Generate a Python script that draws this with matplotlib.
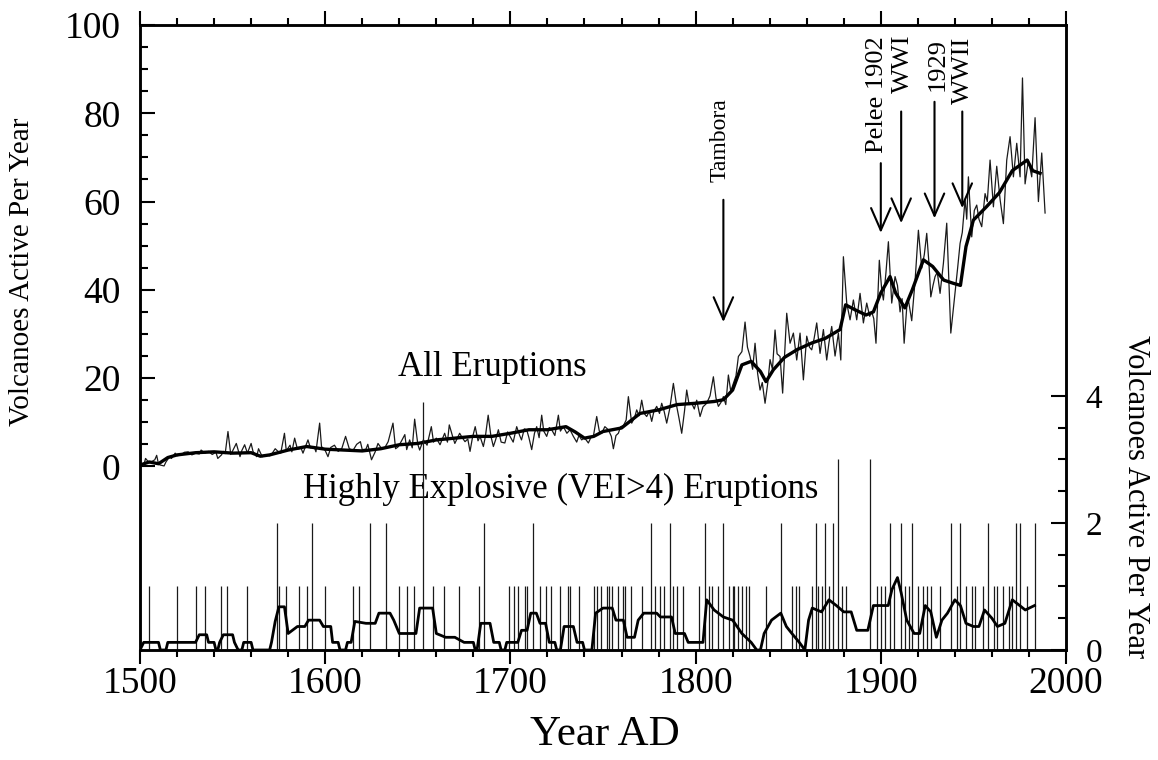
import numpy as np
import matplotlib
matplotlib.use("Agg")
import matplotlib.pyplot as plt
from matplotlib.ticker import MultipleLocator, FixedLocator

plt.rcParams['font.family'] = ['Liberation Serif', 'DejaVu Serif']

# all eruptions, volcanoes active per year (thin line)
all_years = [1500, 1502, 1503, 1505, 1506, 1508, 1509, 1510, 1511, 1513, 1514, 1516, 1517, 1519, 1520,
             1522, 1524, 1526, 1528, 1530, 1532, 1533, 1535, 1537, 1539, 1541, 1542, 1544, 1545, 1546,
             1547.5, 1549, 1550, 1552, 1554, 1555, 1556.5, 1558, 1560, 1561, 1563, 1564, 1566, 1568, 1570,
             1571, 1573, 1574.5, 1576, 1578, 1579, 1581, 1582, 1583.5, 1585, 1587, 1588, 1590.7, 1592, 1594,
             1595, 1597, 1598, 1600, 1601.5, 1603, 1605, 1607, 1609, 1611, 1613, 1615, 1617, 1619, 1620,
             1622, 1623, 1625, 1627, 1628.5, 1630, 1632, 1634, 1636.6, 1638, 1639.3, 1641, 1643, 1644, 1645.6,
             1647, 1648.3, 1650, 1651, 1653, 1655, 1657.3, 1658.5, 1660, 1662, 1664.5, 1666, 1667, 1669, 1670,
             1672.6, 1674, 1675.5, 1677, 1678.2, 1679.5, 1681, 1682.5, 1683.6, 1685.4, 1686.5, 1688, 1689.5,
             1690.8, 1692, 1693.5, 1695, 1697, 1698.5, 1699.8, 1701.5, 1703.4, 1705, 1706, 1707.5, 1708.8,
             1710, 1711.5, 1713, 1714.2, 1715.5, 1716.9, 1718, 1719.6, 1721, 1722.3, 1724, 1725.9, 1727,
             1728.6, 1730.5, 1732.2, 1734, 1735.8, 1737, 1738.5, 1740, 1742.1, 1743.5, 1744.8, 1746.6, 1748,
             1749.3, 1751, 1752.9, 1754.5, 1755.6, 1757, 1758.3, 1759.5, 1761, 1762.5, 1763.7, 1765.5, 1767,
             1768.2, 1769.5, 1770.9, 1772.2, 1773.6, 1775, 1776.3, 1777.5, 1779, 1780.5, 1781.7, 1783, 1784.4,
             1786, 1788, 1789.8, 1791, 1792.5, 1794, 1795.2, 1796.5, 1797.9, 1799.3, 1800.6, 1802.4, 1804,
             1806, 1807.8, 1809.6, 1811, 1812.3, 1813.7, 1815, 1816.3, 1817.7, 1819, 1820.4, 1821.8, 1823.1,
             1825, 1826.7, 1828, 1829.4, 1830.8, 1832.1, 1833.5, 1834.8, 1836, 1837.5, 1839, 1840.2, 1841.5,
             1842.9, 1844, 1845.6, 1847, 1849.2, 1851, 1852.8, 1854.6, 1856.4, 1858.2, 1860, 1861.5, 1862.7,
             1864, 1865.4, 1867.2, 1869, 1870.8, 1872, 1873.5, 1875.3, 1877.1, 1878.4, 1879.8, 1881.6, 1883.4,
             1885.2, 1887, 1888.8, 1890.6, 1892.4, 1894, 1895.1, 1896.2, 1897.4, 1899.2, 1900.5, 1901.4,
             1902.8, 1904.1, 1905.9, 1907.7, 1909, 1910.4, 1911.5, 1912.6, 1914, 1914.9, 1916.7, 1918.5,
             1920.3, 1922.1, 1923.5, 1924.8, 1926, 1927, 1928.2, 1929.3, 1930.5, 1932, 1933.8, 1935.6, 1937.8,
             1939, 1940.1, 1941.5, 1942.8, 1944, 1945.5, 1946.4, 1947.3, 1949.1, 1950.5, 1951.8, 1953, 1954.5,
             1956.3, 1957.5, 1959, 1960.8, 1962.6, 1964.4, 1966.2, 1968, 1969.8, 1971.6, 1973.4, 1975.2,
             1976.5, 1977.9, 1979.7, 1981.5, 1983.3, 1985.1, 1986.9, 1988.7]
all_counts = [0.3, 0.2, 1.8, 0.8, 1.0, 1.5, 2.5, 0.5, 0.3, 0.1, 1.0, 2.2, 1.8, 3.0, 2.4,
              2.6, 3.2, 3.3, 2.6, 3.0, 2.8, 3.7, 3.0, 3.4, 2.7, 3.2, 1.8, 2.6, 3.4, 2.9,
              7.9, 2.7, 3.5, 5.2, 2.2, 3.6, 4.9, 3.0, 5.2, 3.4, 2.2, 4.0, 2.2, 2.6, 2.4,
              2.7, 4.0, 3.4, 3.0, 7.5, 3.5, 4.8, 3.3, 6.4, 3.9, 4.1, 3.0, 6.0, 4.2, 4.5,
              3.3, 9.8, 4.5, 3.6, 2.2, 4.3, 4.8, 3.4, 4.1, 6.8, 4.0, 3.6, 5.0, 5.6, 3.8,
              3.9, 5.0, 1.5, 3.3, 5.2, 4.3, 4.1, 5.6, 9.8, 4.0, 4.4, 5.6, 7.2, 3.8, 6.0,
              4.2, 10.7, 5.0, 3.7, 6.0, 4.8, 9.0, 5.5, 6.4, 4.9, 7.5, 5.5, 9.4, 6.5, 5.2,
              7.5, 6.5, 5.6, 6.2, 3.4, 6.5, 9.0, 5.8, 6.8, 4.5, 6.8, 11.6, 6.8,
              4.5, 6.0, 8.3, 5.5, 5.3, 7.8, 6.8, 5.5, 9.0, 7.0, 6.0, 8.5, 8.3,
              6.5, 3.8, 7.5, 9.0, 6.5, 11.6, 8.0, 6.8, 8.8, 8.3, 7.0, 11.6, 8.0,
              9.0, 7.5, 8.3, 6.8, 5.5, 7.0, 6.0, 6.5, 5.3, 6.6, 6.8, 11.3, 8.0,
              7.5, 9.0, 8.3, 6.8, 4.0, 7.0, 7.5, 9.0, 9.2, 10.5, 15.8, 9.8, 11.0,
              12.8, 11.5, 15.0, 12.0, 11.3, 12.5, 10.2, 12.5, 13.6, 12.0, 14.3, 12.5, 9.8,
              13.0, 18.8, 13.6, 11.0, 7.5, 12.5, 17.3, 14.0, 14.3, 13.0, 15.0, 11.3, 13.5,
              14.3, 16.0, 20.3, 15.5, 13.6, 14.5, 15.8, 14.0, 20.7, 17.0, 18.8, 20.5, 24.9,
              26.0, 32.7, 27.0, 24.9, 22.0, 27.9, 21.0, 17.3, 19.0, 14.3, 19.0, 24.2, 22.0,
              30.9, 25.5, 24.9, 16.6, 34.7, 27.9, 30.2, 24.1, 30.2, 19.6, 29.5, 27.0, 26.4,
              29.0, 32.5, 25.6, 31.0, 24.1, 28.0, 31.7, 25.0, 30.2, 24.1, 47.5, 37.0, 33.2,
              37.7, 33.2, 39.2, 32.5, 37.0, 34.0, 35.0, 33.5, 27.9, 46.7, 40.0, 37.7,
              44.0, 50.9, 37.0, 43.0, 41.0, 35.0, 38.0, 27.9, 36.0, 37.7, 33.0, 42.0,
              53.5, 44.9, 48.0, 52.8, 46.0, 38.4, 41.0, 43.0, 44.0, 39.2, 46.0, 55.1, 30.2,
              35.0, 39.2, 45.0, 50.5, 53.0, 60.5, 56.0, 65.6, 52.0, 58.0, 59.2, 56.0, 54.3,
              61.8, 60.0, 69.4, 58.8, 68.0, 60.5, 55.0, 69.4, 74.7, 65.6, 73.2, 65.6,
              88.0, 64.0, 69.4, 65.6, 79.0, 60.0, 71.0, 57.4]

# smoothed trend of all eruptions (thick line)
trend_years = [1500, 1505, 1510, 1515, 1520, 1530, 1540, 1550, 1560, 1565, 1570, 1580, 1590, 1600,
               1610, 1620, 1630, 1640, 1650, 1660, 1670, 1680, 1690, 1700, 1710, 1720, 1730, 1735,
               1740, 1745, 1750, 1760, 1770, 1780, 1790, 1800, 1810, 1815, 1820, 1825, 1830, 1835,
               1838, 1842, 1848, 1855, 1863, 1870, 1878, 1881, 1886, 1892, 1896, 1900, 1905, 1908,
               1913, 1917, 1923, 1928, 1934, 1939, 1943, 1946, 1950, 1957, 1964, 1971, 1979, 1982, 1986]
trend_counts = [0.3, 1.0, 0.6, 2.0, 2.6, 3.1, 3.3, 3.0, 3.1, 2.3, 2.6, 3.7, 4.5, 3.9,
                3.7, 3.5, 4.0, 4.9, 5.2, 6.0, 6.4, 6.8, 6.8, 7.5, 8.3, 8.3, 9.0, 7.8,
                6.4, 6.8, 7.9, 8.7, 12.0, 12.8, 14.0, 14.3, 14.7, 15.1, 17.3, 23.0, 23.8, 21.5,
                19.2, 21.9, 24.7, 26.5, 28.0, 29.0, 31.0, 36.6, 35.5, 34.3, 35.0, 39.3, 43.0, 39.3,
                35.9, 40.0, 46.8, 45.3, 42.2, 41.5, 41.0, 49.8, 55.8, 58.8, 62.0, 67.0, 69.4, 67.0, 66.4]

# highly explosive (VEI>4) eruptions, right axis
vei_years = [1505, 1520, 1530, 1535, 1544, 1547, 1558, 1574, 1575, 1579, 1586, 1590, 1593, 1600,
             1615, 1618, 1624, 1633, 1640, 1644, 1648, 1653, 1658, 1664, 1672, 1683, 1686, 1699,
             1702, 1704, 1708, 1709, 1712, 1716, 1719, 1722, 1727, 1731, 1732, 1737, 1745, 1747,
             1749, 1752, 1753, 1755, 1758, 1761, 1762, 1765, 1771, 1776, 1778, 1781, 1783, 1786,
             1788, 1790, 1793, 1802, 1805, 1807, 1809, 1812, 1815, 1818, 1820, 1821, 1823, 1825,
             1827, 1829, 1838, 1846, 1852, 1854, 1856, 1863, 1865, 1866, 1868, 1870, 1872, 1874,
             1877, 1879, 1881, 1894, 1898, 1900, 1902, 1905, 1907, 1911, 1913, 1915, 1917, 1920,
             1923, 1925, 1927, 1932, 1938, 1941, 1943, 1946, 1949, 1951, 1955, 1958, 1961, 1963,
             1966, 1969, 1971, 1973, 1975, 1979, 1983]
vei_counts = [1, 1, 1, 1, 1, 1, 1, 2, 1, 1, 1, 1, 2, 1,
              1, 1, 2, 2, 1, 1, 1, 3.9, 1, 1, 1, 1, 2, 1,
              1, 1, 1, 1, 2, 1, 1, 1, 1, 1, 1, 1, 1, 1,
              1, 1, 1, 1, 1, 1, 1, 1, 1, 2, 1, 1, 1, 2,
              1, 1, 1, 1, 2, 1, 1, 1, 2, 1, 1, 1, 1, 1,
              1, 1, 1, 2, 1, 1, 1, 1, 2, 1, 1, 2, 1, 2,
              3, 1, 1, 3, 1, 1, 1, 2, 1, 2, 1, 1, 2, 1,
              1, 1, 1, 1, 2, 1, 2, 1, 1, 1, 1, 2, 1, 1,
              1, 1, 1, 2, 2, 1, 2]

vei_trend_years = [1500, 1502, 1510, 1511, 1514, 1515, 1530, 1532, 1536, 1537, 1540, 1541, 1542, 1543,
                   1545, 1550, 1551, 1553, 1555, 1556, 1560, 1561, 1570, 1571, 1573, 1575, 1578, 1580,
                   1585, 1589, 1591, 1597, 1599, 1603, 1604, 1607, 1608, 1611, 1612, 1614, 1616, 1622,
                   1627, 1629, 1635, 1637, 1640, 1649, 1651, 1658, 1660, 1665, 1670, 1675, 1680, 1681,
                   1682, 1684, 1689, 1691, 1694, 1695, 1697, 1698, 1704, 1706, 1709, 1711, 1714, 1716,
                   1719, 1721, 1724, 1725, 1727, 1729, 1734, 1736, 1739, 1740, 1744, 1746, 1750, 1755,
                   1757, 1761, 1763, 1767, 1769, 1772, 1779, 1781, 1787, 1789, 1794, 1796, 1804, 1806,
                   1810, 1815, 1820, 1825, 1830, 1833, 1835, 1837, 1841, 1846, 1849, 1852, 1856, 1859,
                   1861, 1863, 1868, 1872, 1876, 1880, 1884, 1887, 1893, 1896, 1904, 1906, 1909, 1911,
                   1914, 1918, 1921, 1924, 1927, 1930, 1933, 1936, 1940, 1943, 1946, 1950, 1953, 1956,
                   1960, 1963, 1967, 1971, 1975, 1978, 1983]
vei_trend = [0, 0.12, 0.12, 0, 0, 0.12, 0.12, 0.24, 0.24, 0.12, 0.12, 0, 0, 0.12,
             0.24, 0.24, 0.12, 0, 0, 0.12, 0.12, 0, 0, 0.12, 0.45, 0.68, 0.68, 0.26,
             0.37, 0.37, 0.47, 0.47, 0.37, 0.37, 0.12, 0.12, 0, 0, 0.12, 0.12, 0.45, 0.42,
             0.42, 0.58, 0.58, 0.47, 0.26, 0.26, 0.66, 0.66, 0.26, 0.2, 0.2, 0.12, 0.12, 0,
             0, 0.42, 0.42, 0.12, 0.12, 0, 0, 0.12, 0.12, 0.31, 0.31, 0.58, 0.58, 0.42,
             0.42, 0.12, 0.12, 0, 0, 0.37, 0.37, 0.12, 0.12, 0, 0, 0.58, 0.66, 0.66,
             0.47, 0.47, 0.2, 0.2, 0.47, 0.58, 0.58, 0.52, 0.52, 0.26, 0.26, 0.12, 0.12, 0.79,
             0.63, 0.52, 0.47, 0.26, 0.12, 0, 0, 0.26, 0.47, 0.58, 0.37, 0.26, 0.12, 0,
             0.47, 0.66, 0.6, 0.79, 0.7, 0.6, 0.6, 0.31, 0.31, 0.7, 0.7, 0.95, 1.14, 0.9,
             0.47, 0.26, 0.26, 0.7, 0.6, 0.2, 0.47, 0.58, 0.79, 0.7, 0.42, 0.37, 0.37, 0.63,
             0.5, 0.37, 0.42, 0.79, 0.7, 0.63, 0.7]

# arrows: label, year, tail, tip, text year, text centre (left axis units)
events = ["Tambora", "Pelee 1902", "WWI", "1929", "WWII"]
event_x = [1815, 1900, 1911, 1929, 1944]
event_tail = [60.4, 68.7, 80.4, 82.6, 80.4]
event_tip = [32.7, 52.9, 55.1, 56.2, 58.5]
event_tx = [1813, 1898, 1912, 1930.5, 1944.5]
event_ty = [74, 84.3, 91.2, 91.0, 89.8]
event_fs = [17, 19, 19, 19, 19]

fig = plt.figure(figsize=(11.58, 7.6), dpi=100)
ax = fig.add_axes([140/1158, 1 - 650/760, 926/1158, 625/760])
ax2 = ax.twinx()

ax.plot(all_years, all_counts, color='#1a1a1a', lw=0.9)
ax.plot(trend_years, trend_counts, color='black', lw=2.4)

ax2.vlines(vei_years, 0, vei_counts, color='#1a1a1a', lw=0.9)
ax2.plot(vei_trend_years, vei_trend, color='black', lw=2.0)

for i in range(len(events)):
    ax.annotate("", xy=(event_x[i], event_tip[i]), xytext=(event_x[i], event_tail[i]),
                arrowprops=dict(arrowstyle='->,head_length=0.8,head_width=0.35',
                                lw=1.5, color='black', mutation_scale=20,
                                shrinkA=0, shrinkB=0))
    ax.text(event_tx[i], event_ty[i], events[i], rotation=90, ha='center', va='center',
            fontsize=event_fs[i])

ax.text(1690, 22.3, "All Eruptions", ha='center', va='center', fontsize=25)
ax.text(1727, -5.3, "Highly Explosive (VEI>4) Eruptions", ha='center', va='center', fontsize=25)

ax.set_xlim(1500, 2000)
ax.set_ylim(-41.6, 100)
ax2.set_ylim(0, 9.84)

ax.xaxis.set_major_locator(MultipleLocator(100))
ax.xaxis.set_minor_locator(MultipleLocator(20))
ax.yaxis.set_major_locator(FixedLocator([0, 20, 40, 60, 80, 100]))
ax.yaxis.set_minor_locator(FixedLocator(list(range(0, 101, 5))))
ax2.yaxis.set_major_locator(FixedLocator([0, 2, 4]))
ax2.yaxis.set_minor_locator(FixedLocator(list(np.arange(0, 4.01, 0.5))))

ax.tick_params(axis='x', which='both', direction='out', top=True, bottom=True,
               labelsize=27, pad=2, width=1.5)
ax.tick_params(axis='x', which='major', length=10)
ax.tick_params(axis='x', which='minor', length=5)
ax.tick_params(axis='y', which='both', direction='in', left=True, right=False,
               labelsize=27, pad=14, width=1.5)
ax.tick_params(axis='y', which='major', length=11)
ax.tick_params(axis='y', which='minor', length=6)
ax2.tick_params(axis='y', which='both', direction='in', right=True, left=False,
                labelsize=24, pad=14, width=1.5)
ax2.tick_params(axis='y', which='major', length=11)
ax2.tick_params(axis='y', which='minor', length=6)

for a in (ax, ax2):
    for s in a.spines.values():
        s.set_linewidth(1.8)

fig.text(22/1158, 1 - 272/760, "Volcanoes Active Per Year", rotation=90,
         ha='center', va='center', fontsize=21)
fig.text(1135/1158, 1 - 497/760, "Volcanoes Active Per Year", rotation=270,
         ha='center', va='center', fontsize=22)
fig.text(605/1158, 1 - 735/760, "Year AD", ha='center', va='center', fontsize=31)

fig.savefig("out.png", dpi=100)
